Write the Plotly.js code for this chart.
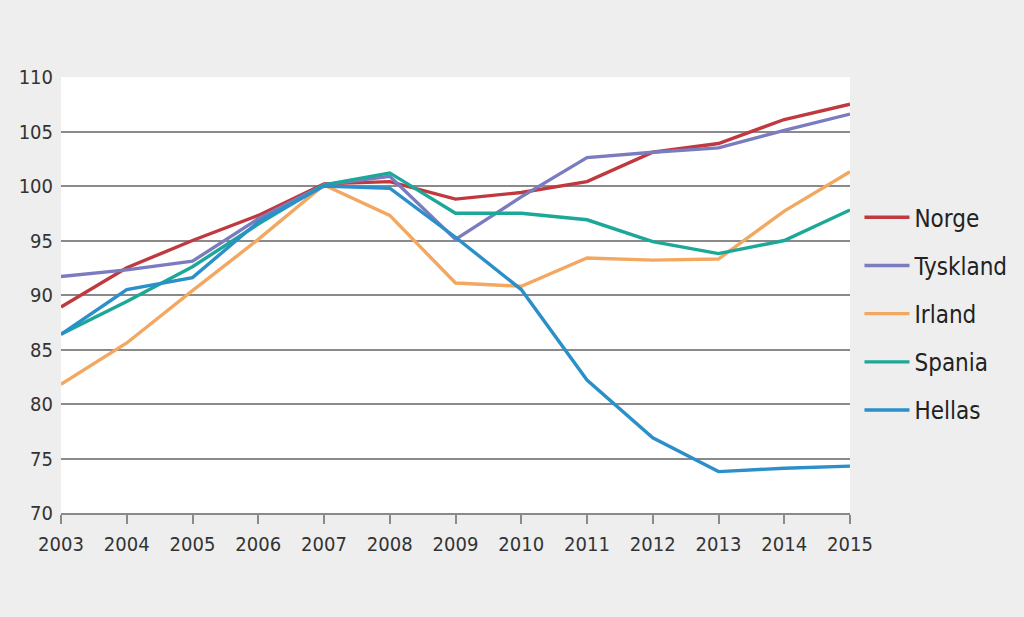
<!DOCTYPE html>
<html>
<head>
<meta charset="utf-8">
<script src="https://cdn.plot.ly/plotly-3.0.1.min.js"></script>
<style>
  html, body { margin: 0; padding: 0; background: #eeeeee; }
  #chart { width: 1024px; height: 617px; }
</style>
</head>
<body>
<div id="chart"></div>
<script>
const years = [2003, 2004, 2005, 2006, 2007, 2008, 2009, 2010, 2011, 2012, 2013, 2014, 2015];
const norge    = [88.9, 92.5, 95.0, 97.3, 100.2, 100.4, 98.8, 99.4, 100.4, 103.1, 103.9, 106.1, 107.5];
const tyskland = [91.7, 92.3, 93.1, 97.0, 100.1, 100.9, 95.1, 99.0, 102.6, 103.1, 103.5, 105.1, 106.6];
const irland   = [81.8, 85.6, 90.4, 95.1, 100.1, 97.3, 91.1, 90.8, 93.4, 93.2, 93.3, 97.7, 101.3];
const spania   = [86.4, 89.4, 92.6, 96.5, 100.1, 101.2, 97.5, 97.5, 96.9, 94.9, 93.8, 95.0, 97.8];
const hellas   = [86.4, 90.5, 91.6, 96.7, 100.0, 99.8, 95.3, 90.5, 82.2, 76.9, 73.8, 74.1, 74.3];

const seriesNames = ["Norge", "Tyskland", "Irland", "Spania", "Hellas"];
const seriesData = [norge, tyskland, irland, spania, hellas];
const seriesColors = ["#c0393f", "#7a7cbf", "#f3a862", "#1ca898", "#2b8fc9"];

const yTicks = [70, 75, 80, 85, 90, 95, 100, 105, 110];

const fontFam = '"DejaVu Sans Condensed", "Roboto", sans-serif';

const traces = seriesNames.map((name, i) => ({
  type: 'scatter',
  mode: 'lines',
  name: name,
  x: years,
  y: seriesData[i],
  legendgroup: name,
  line: { color: seriesColors[i], width: 3.4 },
  hoverinfo: 'x+y+name'
}));

const layout = {
  width: 1024,
  height: 617,
  paper_bgcolor: '#eeeeee',
  plot_bgcolor: '#ffffff',
  margin: { l: 61, r: 174, t: 77, b: 104, autoexpand: false },
  showlegend: true,
  legend: {
    x: 1.012, xanchor: 'left',
    y: 0.729, yanchor: 'top',
    bgcolor: 'rgba(0,0,0,0)',
    font: { family: fontFam, size: 24, color: '#222222' },
    tracegroupgap: 14,
    itemwidth: 45
  },
  xaxis: {
    range: [2003, 2015],
    tickvals: years,
    ticktext: years.map(String),
    showgrid: false,
    zeroline: false,
    showline: true,
    linecolor: '#8a8a8a',
    linewidth: 2,
    ticks: 'outside',
    ticklen: 9,
    tickwidth: 2,
    tickcolor: '#8a8a8a',
    ticklabelstandoff: 3,
    tickfont: { family: fontFam, size: 20, color: '#333333' },
    fixedrange: true
  },
  yaxis: {
    range: [70, 110],
    tickvals: yTicks,
    ticktext: yTicks.map(String),
    showgrid: true,
    gridcolor: '#8a8a8a',
    gridwidth: 1.6,
    zeroline: false,
    showline: false,
    ticks: '',
    ticklen: 0,
    ticklabelstandoff: 7,
    tickfont: { family: fontFam, size: 20, color: '#333333' },
    fixedrange: true
  }
};

Plotly.newPlot('chart', traces, layout, { displayModeBar: false });
</script>
</body>
</html>
